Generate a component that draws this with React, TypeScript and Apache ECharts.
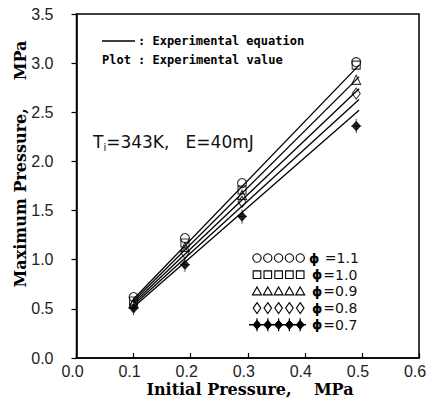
import React, { useEffect, useRef } from "react";
import * as echarts from "echarts";

// Measured points (initial pressure, MPa)
const xPoints = [0.1, 0.19, 0.29, 0.49];
const phi11 = [0.62, 1.22, 1.78, 3.01];
const phi10 = [0.58, 1.17, 1.71, 2.98];
const phi09 = [0.56, 1.13, 1.66, 2.83];
const phi08 = [0.54, 1.07, 1.59, 2.69];
const phi07 = [0.505, 0.95, 1.44, 2.36];

// Experimental equation lines
const lineX = [0.1, 0.495];
const eq11 = [0.6, 2.98];
const eq10 = [0.58, 2.86];
const eq09 = [0.56, 2.74];
const eq08 = [0.54, 2.63];
const eq07 = [0.52, 2.52];

const legendLabels = ["=1.1", "=1.0", "=0.9", "=0.8", "=0.7"];
const xTicks = [0, 0.1, 0.2, 0.3, 0.4, 0.5, 0.6];
const yTicks = [0, 0.5, 1, 1.5, 2, 2.5, 3, 3.5];

const plusDiamond = "path://M5,0 L5,14 M0,7 L10,7 M5,2.5 L9,7 L5,11.5 L1,7 Z";

export default function App() {
  const ref = useRef<HTMLDivElement>(null);
  useEffect(() => {
    if (!ref.current) return;
    const chart = echarts.init(ref.current, null, { renderer: "svg" });
    const pts = (ys: number[]) => xPoints.map((x, i) => [x, ys[i]]);
    const lns = (ys: number[]) => lineX.map((x, i) => [x, ys[i]]);
    const hollow = { color: "transparent", borderColor: "#000", borderWidth: 1.1 };

    const scatterDefs: [number[], string, any][] = [
      [phi11, "circle", 9],
      [phi10, "rect", 8],
      [phi09, "triangle", 9],
      [phi08, "diamond", [8, 11]],
      [phi07, plusDiamond, [10, 14]],
    ];
    const series: any[] = [];
    [eq11, eq10, eq09, eq08, eq07].forEach((e) =>
      series.push({
        type: "line",
        data: lns(e),
        symbol: "none",
        lineStyle: { color: "#000", width: 1.3 },
        silent: true,
      })
    );
    scatterDefs.forEach(([d, sym, size], k) =>
      series.push({
        type: "scatter",
        data: pts(d),
        symbol: sym,
        symbolSize: size,
        itemStyle:
          k === 4
            ? { color: "#000", borderColor: "#000", borderWidth: 1.1 }
            : hollow,
      })
    );

    // legend graphic
    const g: any[] = [];
    const rowY0 = 258;
    const rowDy = 16.7;
    for (let r = 0; r < 5; r++) {
      const y = rowY0 + r * rowDy;
      if (r === 4) {
        g.push({
          type: "line",
          shape: { x1: 249, y1: y, x2: 306, y2: y },
          style: { stroke: "#000", lineWidth: 1.4 },
        });
      }
      for (let i = 0; i < 5; i++) {
        const cx = 257 + i * 10.8;
        const st = { fill: "none", stroke: "#000", lineWidth: 1.1 };
        if (r === 0) g.push({ type: "circle", shape: { cx, cy: y, r: 4.2 }, style: st });
        if (r === 1) g.push({ type: "rect", shape: { x: cx - 3.8, y: y - 3.8, width: 7.6, height: 7.6 }, style: st });
        if (r === 2)
          g.push({ type: "polygon", shape: { points: [[cx, y - 4.5], [cx + 4.5, y + 3.5], [cx - 4.5, y + 3.5]] }, style: st });
        if (r === 3)
          g.push({ type: "polygon", shape: { points: [[cx, y - 5.5], [cx + 3.8, y], [cx, y + 5.5], [cx - 3.8, y]] }, style: st });
        if (r === 4) {
          g.push({
            type: "polygon",
            shape: { points: [[cx, y - 4.5], [cx + 4, y], [cx, y + 4.5], [cx - 4, y]] },
            style: { fill: "#000", stroke: "#000", lineWidth: 1 },
          });
          g.push({ type: "line", shape: { x1: cx, y1: y - 6.5, x2: cx, y2: y + 6.5 }, style: { stroke: "#000", lineWidth: 1.2 } });
        }
      }
      g.push({
        type: "text",
        x: r === 0 ? 309 : 312,
        y,
        style: {
          text: "{p|ϕ}{n|" + (r === 0 ? " " : "") + legendLabels[r] + "}",
          verticalAlign: "middle",
          rich: {
            p: { fontFamily: "DejaVu Sans", fontWeight: "bold", fontSize: 13, lineHeight: 14, fill: "#000" },
            n: { fontFamily: "DejaVu Sans", fontSize: 14, lineHeight: 14, fill: "#111", padding: [0, 0, 0, 1] },
          },
        },
      });
    }
    // header legend
    g.push({ type: "line", shape: { x1: 102, y1: 41, x2: 135, y2: 41 }, style: { stroke: "#000", lineWidth: 1.5 } });
    g.push({
      type: "text",
      x: 138,
      y: 41,
      style: {
        text: ": Experimental equation",
        font: "bold 12px 'DejaVu Sans Mono'",
        fill: "#000",
        verticalAlign: "middle",
      },
    });
    g.push({
      type: "text",
      x: 102,
      y: 60,
      style: {
        text: "Plot : Experimental value",
        font: "bold 12px 'DejaVu Sans Mono'",
        fill: "#000",
        verticalAlign: "middle",
      },
    });
    // condition label
    g.push({
      type: "text",
      x: 93,
      y: 142,
      style: {
        text: "{a|T}{s|i}{a|=343K,   E=40mJ}",
        verticalAlign: "middle",
        rich: {
          a: { fontFamily: "DejaVu Sans", fontSize: 17, fill: "#111" },
          s: { fontFamily: "DejaVu Sans", fontSize: 10, fill: "#111", padding: [10, 0, 0, 0] },
        },
      },
    });
    // axis titles
    g.push({
      type: "text",
      x: 250,
      y: 389,
      style: {
        text: "Initial Pressure,    MPa",
        font: "bold 16px 'DejaVu Serif'",
        fill: "#000",
        align: "center",
        verticalAlign: "middle",
      },
    });
    g.push({
      type: "text",
      x: 20,
      y: 164,
      rotation: Math.PI / 2,
      style: {
        text: "Maximum Pressure,     MPa",
        font: "bold 16px 'DejaVu Serif'",
        fill: "#000",
        align: "center",
        verticalAlign: "middle",
      },
    });

    chart.setOption({
      animation: false,
      backgroundColor: "#fff",
      grid: {
        left: 76.5,
        right: 14,
        top: 14,
        bottom: 43,
        show: true,
        borderColor: "#000",
        borderWidth: 1.5,
        backgroundColor: "transparent",
      },
      xAxis: {
        type: "value",
        min: xTicks[0],
        max: xTicks[xTicks.length - 1],
        interval: 0.1,
        splitLine: { show: false },
        axisLine: { show: true, lineStyle: { color: "#000", width: 1.5 } },
        axisTick: { show: true, inside: true, length: 5, lineStyle: { color: "#000", width: 1.2 } },
        axisLabel: {
          color: "#222",
          fontFamily: "Liberation Sans",
          fontSize: 16,
          margin: 5,
          padding: [0, 8, 0, 0],
          formatter: (v: number) => v.toFixed(1),
        },
      },
      yAxis: {
        type: "value",
        min: yTicks[0],
        max: yTicks[yTicks.length - 1],
        interval: 0.5,
        splitLine: { show: false },
        axisLine: { show: true, lineStyle: { color: "#000", width: 1.5 } },
        axisTick: { show: true, inside: false, length: 5, lineStyle: { color: "#000", width: 1.2 } },
        axisLabel: {
          color: "#222",
          fontFamily: "Liberation Sans",
          fontSize: 16,
          margin: 23,
          formatter: (v: number) => v.toFixed(1),
        },
      },
      graphic: g,
      series,
    });
    return () => chart.dispose();
  }, []);
  return (
    <div
      ref={ref}
      style={{ position: "fixed", left: 0, top: 0, width: 433, height: 401, background: "#fff" }}
    />
  );
}
